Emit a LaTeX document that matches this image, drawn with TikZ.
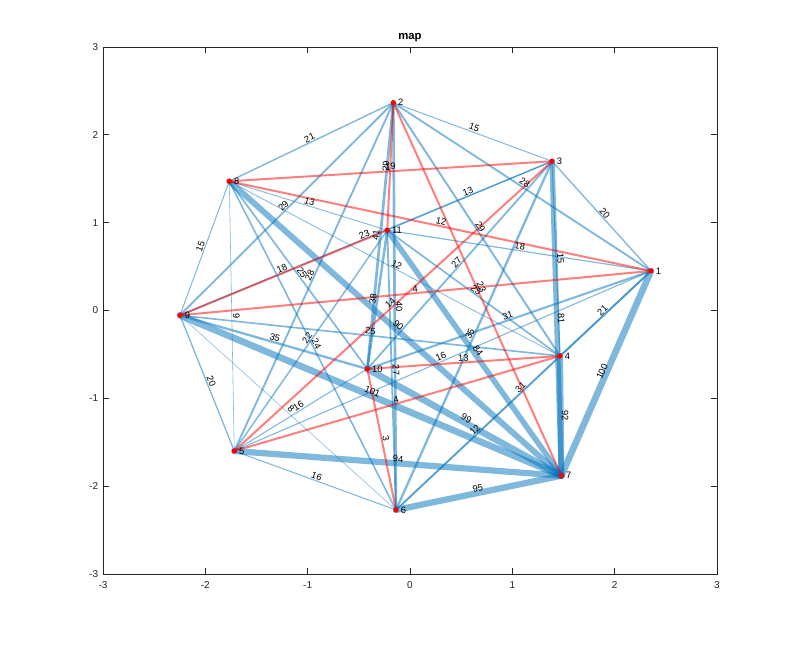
\documentclass[tikz,border=0pt]{standalone}
\usepackage{fontspec}
\setmainfont{Liberation Sans}
\definecolor{mblue}{rgb}{0,0.447,0.741}
\definecolor{axgray}{rgb}{0.15,0.15,0.15}
\begin{document}
\begin{tikzpicture}[x=76.75pt,y=65.875pt,
  bedge/.style={draw=mblue, draw opacity=0.5, line cap=round},
  redge/.style={draw=red, draw opacity=0.5, line width=1.5pt, line cap=round},
  elab/.style={midway, sloped, above, inner sep=0.7pt, font=\fontsize{7}{8}\selectfont},
  dot/.style={circle, fill=red, inner sep=0pt, minimum size=4pt},
  nlabst/.style={inner sep=0pt, font=\fontsize{7}{8}\selectfont},
  ticklab/.style={inner sep=0pt, font=\fontsize{7.5}{9}\selectfont, text=axgray},
  axisline/.style={draw=axgray, line width=0.5pt}]
\useasboundingbox (-4.0066,-3.820) rectangle (3.7428,3.535);
\fill[white] (-4.0066,-3.820) rectangle (3.7428,3.535);

% axes
\draw[axisline] (-3,-3) rectangle (3,3);
\foreach \t in {-3,...,3}{
  \draw[axisline] (\t,-3) -- ++(0,4.5pt);
  \draw[axisline] (\t,3) -- ++(0,-4.5pt);
  \draw[axisline] (-3,\t) -- ++(4.5pt,0);
  \draw[axisline] (3,\t) -- ++(-4.5pt,0);
  \node[ticklab] (xt\t) at (\t,-3.125) {\t};
  \node[ticklab, anchor=east] (yt\t) at (-3.045,\t) {\t};
}
\node[font=\fontsize{8.5}{10}\selectfont\bfseries, inner sep=0pt] (title) at (0,3.103) {map};

% node positions
\coordinate (p1) at (2.355,0.450);
\coordinate (p2) at (-0.163,2.366);
\coordinate (p3) at (1.388,1.699);
\coordinate (p4) at (1.466,-0.518);
\coordinate (p5) at (-1.717,-1.600);
\coordinate (p6) at (-0.137,-2.271);
\coordinate (p7) at (1.479,-1.881);
\coordinate (p8) at (-1.766,1.471);
\coordinate (p9) at (-2.248,-0.055);
\coordinate (p10) at (-0.417,-0.666);
\coordinate (p11) at (-0.222,0.913);

% blue edges
\foreach \a/\b/\w in {9/8/15, 9/5/20, 9/10/35, 9/2/29, 9/6/8, 9/3/23, 9/4/25, 9/7/101,
  8/5/9, 8/10/25, 8/11/13, 8/2/21, 8/6/24, 8/4/12, 8/7/90,
  5/10/16, 5/11/22, 5/2/28, 5/6/16, 5/7/94, 5/1/16,
  10/11/38, 10/2/41, 10/3/27, 10/7/99, 10/1/31,
  11/6/27, 11/3/13, 11/4/25, 11/7/84, 11/1/18,
  2/6/40, 2/3/15, 2/4/29, 2/1/28,
  6/3/35, 6/4/12, 6/7/95, 6/1/31,
  3/4/15, 3/7/81, 3/1/20, 4/7/92, 4/1/21, 7/1/100}{
  \draw[bedge, line width={(5*\w/101)*1pt}] (p\a) -- (p\b);
}
% red (highlighted) edges
\foreach \a/\b/\w in {9/11/18, 9/1/4, 8/3/19, 8/1/12, 5/3/14, 5/4/4,
  10/6/3, 10/4/13, 11/2/29, 2/7/23}{
  \draw[redge] (p\a) -- (p\b);
}
% edge labels
\foreach \a/\b/\w in {9/8/15, 9/5/20, 9/10/35, 9/2/29, 9/6/8, 9/3/23, 9/4/25, 9/7/101,
  8/5/9, 8/10/25, 8/11/13, 8/2/21, 8/6/24, 8/4/12, 8/7/90,
  5/10/16, 5/11/22, 5/2/28, 5/6/16, 5/7/94, 5/1/16,
  10/11/38, 10/2/41, 10/3/27, 10/7/99, 10/1/31,
  11/6/27, 11/3/13, 11/4/25, 11/7/84, 11/1/18,
  2/6/40, 2/3/15, 2/4/29, 2/1/28,
  6/3/35, 6/4/12, 6/7/95, 6/1/31,
  3/4/15, 3/7/81, 3/1/20, 4/7/92, 4/1/21, 7/1/100,
  9/11/18, 9/1/4, 8/3/19, 8/1/12, 5/3/14, 5/4/4,
  10/6/3, 10/4/13, 11/2/29, 2/7/23}{
  \path (p\a) -- (p\b) node[elab] (l\a-\b) {\w};
}
% node markers
\foreach \i in {1,...,11}{
  \node[dot, label={[nlabst, label distance=1.2pt]0:\i}] (n\i) at (p\i) {};
}
\end{tikzpicture}
\end{document}
